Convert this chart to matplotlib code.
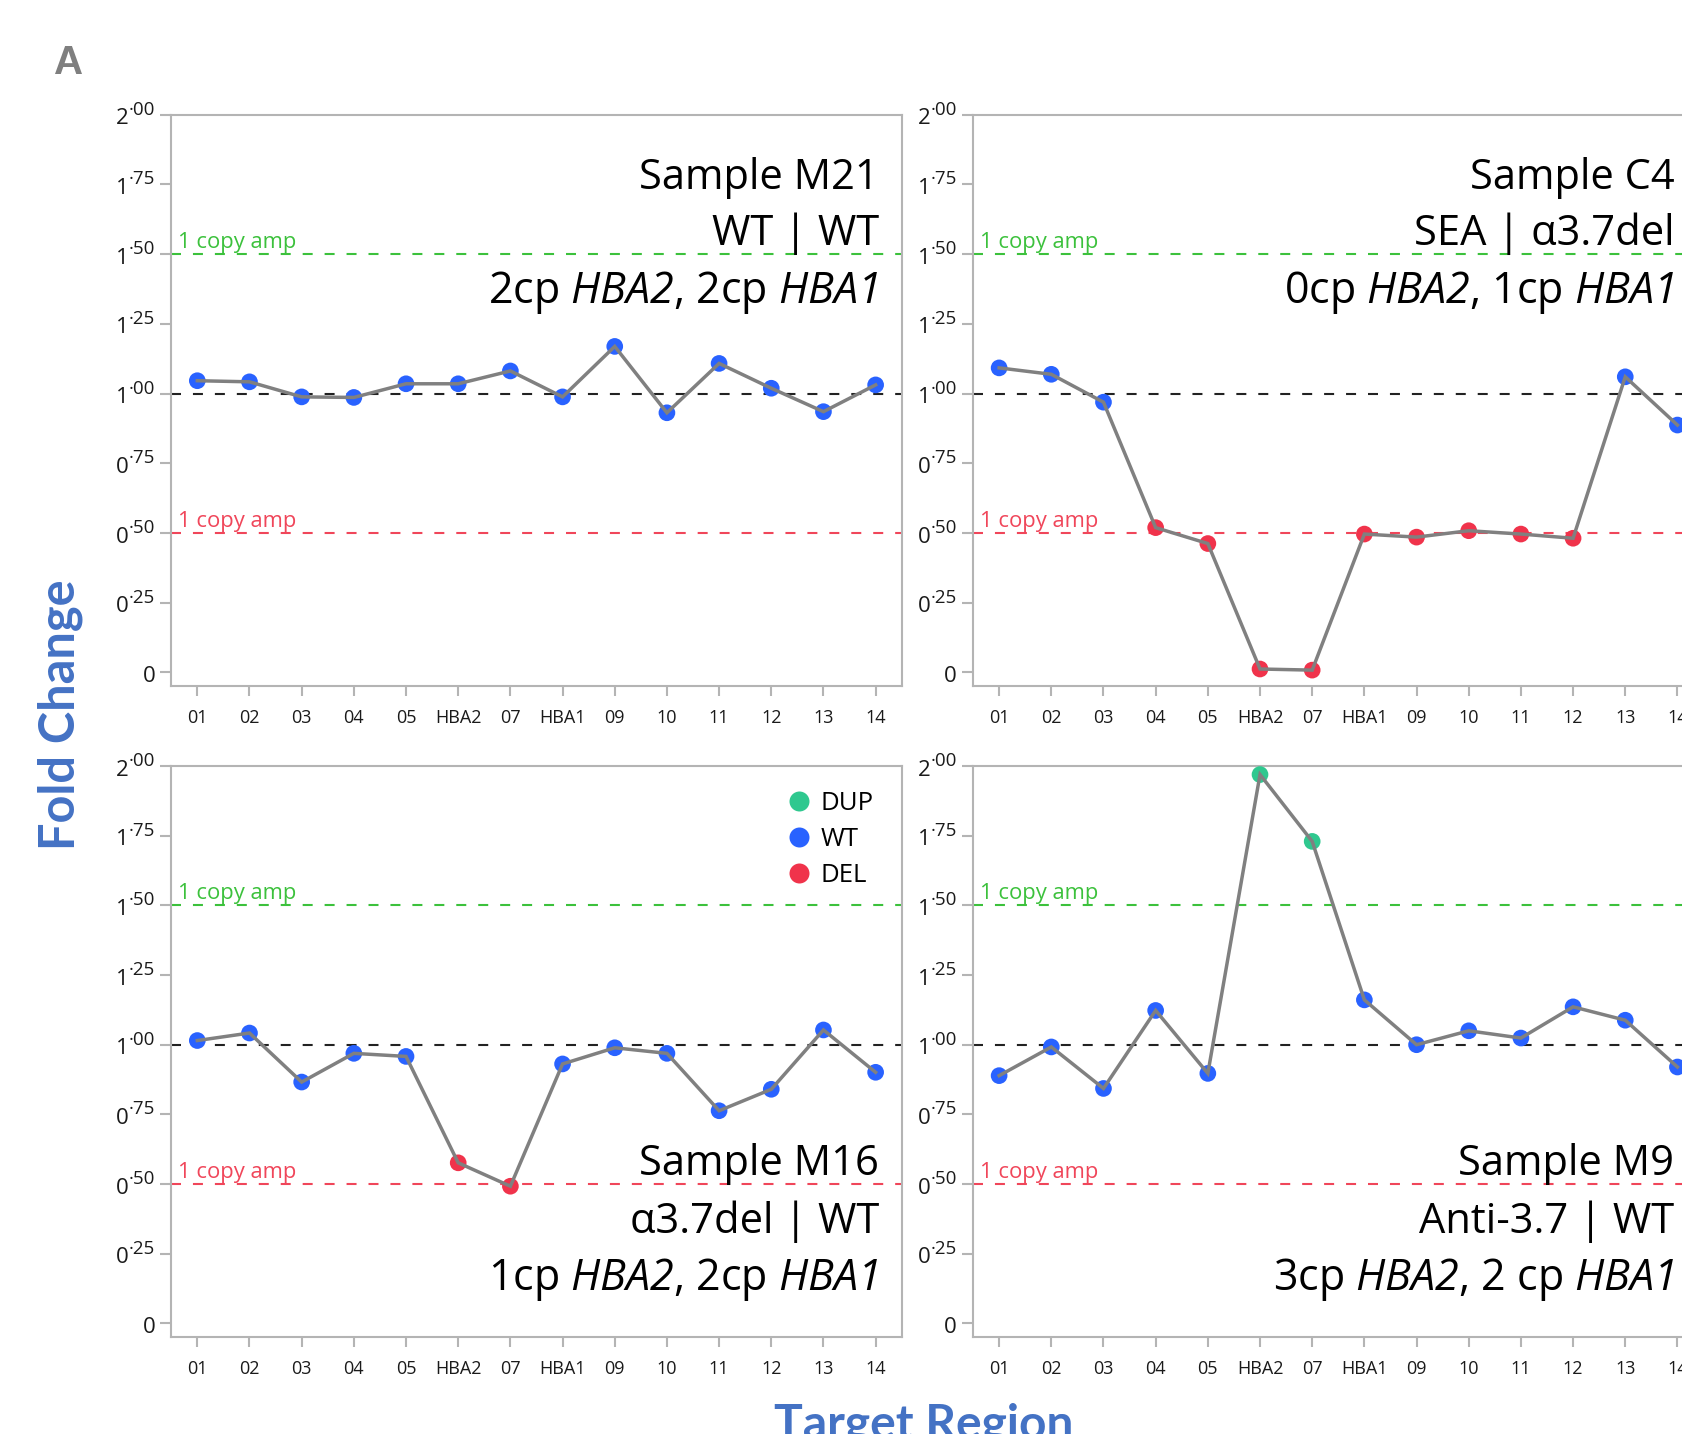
import numpy as np
import matplotlib.pyplot as plt
from matplotlib.lines import Line2D

plt.rcParams['font.family'] = ['Open Sans', 'DejaVu Sans']
# math segments are only used for the italic gene names, digits included
plt.rcParams['mathtext.fontset'] = 'custom'
plt.rcParams['mathtext.rm'] = 'Open Sans:italic'
plt.rcParams['mathtext.it'] = 'Open Sans:italic'
plt.rcParams['mathtext.bf'] = 'Open Sans:bold'
plt.rcParams['lines.scale_dashes'] = False

# target regions on the x axis
regions = ['01', '02', '03', '04', '05', 'HBA2', '07', 'HBA1', '09', '10', '11', '12', '13', '14']
y_ticks = [0, 0.25, 0.5, 0.75, 1.0, 1.25, 1.5, 1.75, 2.0]

# fold change per sample
m21_fc = [1.046, 1.042, 0.988, 0.986, 1.035, 1.035, 1.081, 0.988, 1.169, 0.931, 1.108, 1.019, 0.935, 1.031]
m21_state = ['WT'] * 14

c4_fc = [1.092, 1.069, 0.969, 0.519, 0.462, 0.012, 0.008, 0.496, 0.485, 0.508, 0.496, 0.481, 1.060, 0.887]
c4_state = ['WT', 'WT', 'WT', 'DEL', 'DEL', 'DEL', 'DEL', 'DEL', 'DEL', 'DEL', 'DEL', 'DEL', 'WT', 'WT']

m16_fc = [1.015, 1.042, 0.866, 0.969, 0.958, 0.576, 0.492, 0.931, 0.989, 0.969, 0.763, 0.840, 1.053, 0.901]
m16_state = ['WT', 'WT', 'WT', 'WT', 'WT', 'DEL', 'DEL', 'WT', 'WT', 'WT', 'WT', 'WT', 'WT', 'WT']

m9_fc = [0.889, 0.992, 0.843, 1.123, 0.897, 1.970, 1.730, 1.161, 1.000, 1.050, 1.024, 1.136, 1.088, 0.920]
m9_state = ['WT', 'WT', 'WT', 'WT', 'WT', 'DUP', 'DUP', 'WT', 'WT', 'WT', 'WT', 'WT', 'WT', 'WT']

m21_text = ['Sample M21', 'WT | WT', r'2cp $HBA2$, 2cp $HBA1$']
c4_text = ['Sample C4', 'SEA | α3.7del', r'0cp $HBA2$, 1cp $HBA1$']
m16_text = ['Sample M16', 'α3.7del | WT', r'1cp $HBA2$, 2cp $HBA1$']
m9_text = ['Sample M9', 'Anti-3.7 | WT', r'3cp $HBA2$, 2 cp $HBA1$']

legend_labels = ['DUP', 'WT', 'DEL']
state_colors = {'DUP': '#2fc88f', 'WT': '#2962ff', 'DEL': '#f0334b'}

GREEN = '#3cc13c'
RED = '#f0465a'
SPINE = '#b4b4b4'
TXT = '#1a1a1a'


def draw_panel(ax, fc, states, lines, top, xtext):
    x = np.arange(len(regions))
    ax.set_xlim(-0.5, 13.5)
    ax.set_ylim(-0.048, 2.0)

    ax.axhline(1.5, color=GREEN, lw=1.5, dashes=(7.2, 8.6), zorder=1)
    ax.axhline(1.0, color='#222222', lw=1.5, dashes=(7.2, 8.6), zorder=1)
    ax.axhline(0.5, color=RED, lw=1.5, dashes=(7.2, 8.6), zorder=1)
    ax.text(-0.37, 1.522, '1 copy amp', color=GREEN, fontsize=15.8, va='baseline')
    ax.text(-0.37, 0.522, '1 copy amp', color=RED, fontsize=15.8, va='baseline')

    ax.scatter(x, fc, s=144, c=[state_colors[s] for s in states], linewidths=0, zorder=3)
    ax.plot(x, fc, color='#808080', lw=2.5, solid_joinstyle='miter', zorder=4)

    # sample annotation, right aligned near the last region
    base = [1.735, 1.532, 1.323] if top else [0.531, 0.324, 0.118]
    for i, (line, yb) in enumerate(zip(lines, base)):
        ax.text(xtext, yb, line, ha='right', va='baseline', fontsize=31 if i == 2 else 30,
                color='black', zorder=5)

    for sp in ax.spines.values():
        sp.set_color(SPINE)
        sp.set_linewidth(1.5)
    ax.set_xticks(x)
    ax.set_xticklabels(regions)
    ax.tick_params(axis='x', length=7, width=1.5, color=SPINE, pad=10, labelsize=13, labelcolor=TXT)
    ax.set_yticks(y_ticks)
    ax.set_yticklabels([''] * len(y_ticks))
    ax.tick_params(axis='y', length=8, width=1.5, color=SPINE)

    # tick labels with raised decimals, like "1·75"
    ytrans = ax.get_yaxis_transform()
    for v in y_ticks:
        if v == 0:
            ax.annotate('0', xy=(0, v), xycoords=ytrans, xytext=(-11.5, -7),
                        textcoords='offset points', ha='right', va='baseline',
                        fontsize=16, color=TXT, annotation_clip=False)
        else:
            whole, frac = f'{v:.2f}'.split('.')
            dec = ax.annotate('·' + frac, xy=(0, v), xycoords=ytrans, xytext=(-11.5, 0),
                              textcoords='offset points', ha='right', va='baseline',
                              fontsize=13.5, color=TXT, annotation_clip=False)
            ax.annotate(whole, xy=(0, 0), xycoords=dec, xytext=(0, -4),
                        textcoords='offset points', ha='right', va='baseline',
                        fontsize=16, color=TXT, annotation_clip=False)


fig = plt.figure(figsize=(16.82, 14.34), dpi=100)

ax_m21 = fig.add_axes([0.1018, 0.5218, 0.4343, 0.3982])
ax_c4 = fig.add_axes([0.5785, 0.5218, 0.4343, 0.3982])
ax_m16 = fig.add_axes([0.1018, 0.0679, 0.4343, 0.3978])
ax_m9 = fig.add_axes([0.5785, 0.0679, 0.4343, 0.3978])

draw_panel(ax_m21, m21_fc, m21_state, m21_text, True, 13.06)
draw_panel(ax_c4, c4_fc, c4_state, c4_text, True, 12.94)
draw_panel(ax_m16, m16_fc, m16_state, m16_text, False, 13.06)
draw_panel(ax_m9, m9_fc, m9_state, m9_text, False, 12.94)

handles = [Line2D([], [], marker='o', ls='none', ms=14.4, mfc=state_colors[k], mec='none')
           for k in legend_labels]
ax_m16.legend(handles, legend_labels, loc='upper left', bbox_to_anchor=(0.842, 0.956),
              frameon=False, fontsize=18.5, handlelength=1.0, handletextpad=0.34,
              labelspacing=0.42, borderpad=0, borderaxespad=0)

fig.text(0.0321, 0.9484, 'A', fontsize=29, fontweight='bold', color='#7f7f7f',
         family=['Liberation Sans', 'DejaVu Sans'], va='baseline')
fig.text(0.0357, 0.5018, 'Fold Change', rotation=90, ha='center', va='center',
         fontsize=35, fontweight='bold', color='#4472c4', family=['Lato', 'DejaVu Sans'])
fig.text(0.549, -0.003, 'Target Region', ha='center', va='baseline',
         fontsize=34.5, fontweight='bold', color='#4472c4', family=['Lato', 'DejaVu Sans'])

fig.savefig('out.png', dpi=100)
